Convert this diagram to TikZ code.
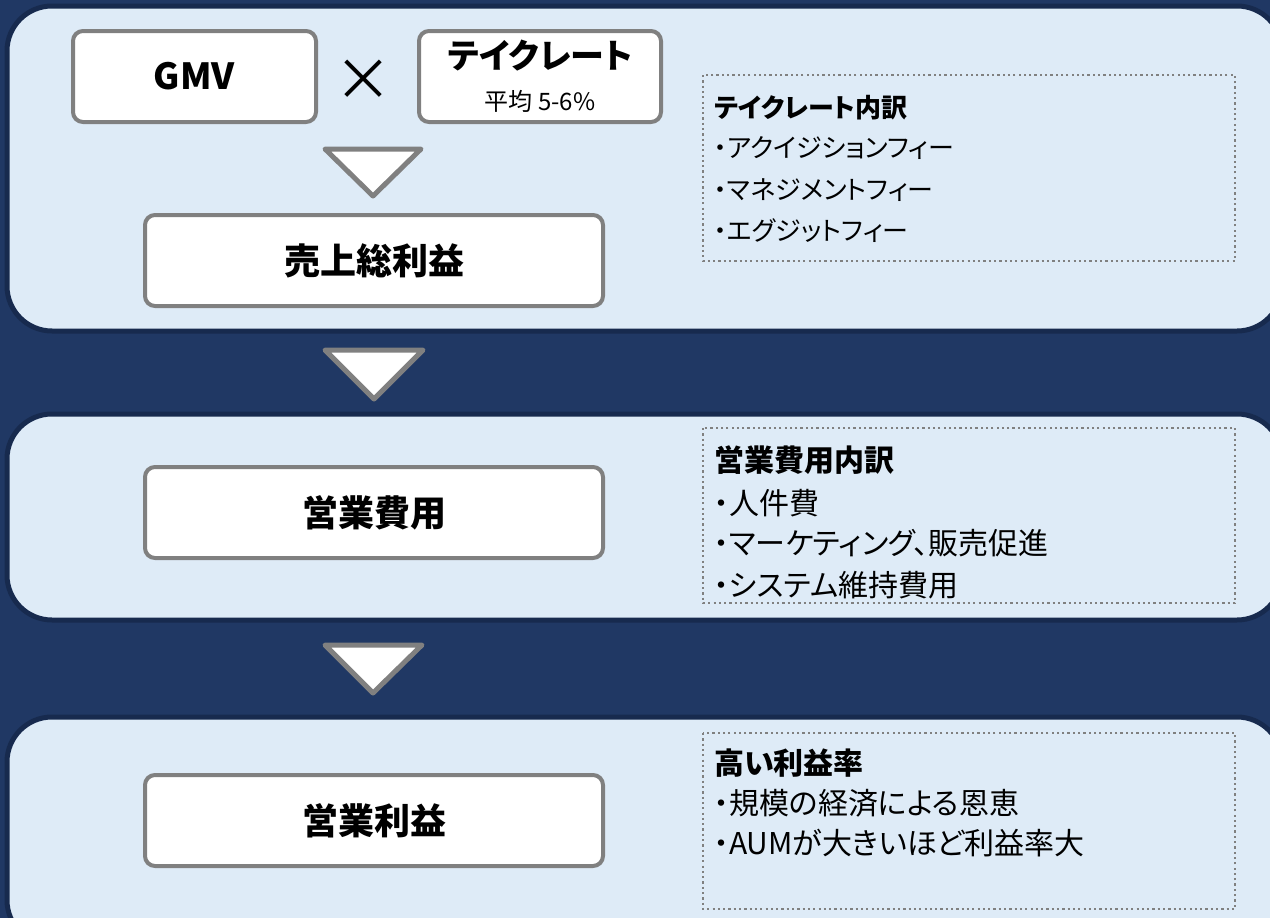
\documentclass[tikz,border=0pt]{standalone}
\usepackage{fontspec}
\setmainfont{Noto Sans CJK JP}[RawFeature=+palt]
\definecolor{bgnavy}{RGB}{32,56,100}
\definecolor{panelline}{RGB}{23,42,78}
\definecolor{panelfill}{RGB}{222,235,247}
\definecolor{boxgray}{RGB}{128,128,128}
\tikzset{
  panel/.style={fill=panelfill, draw=panelline, line width=5pt, rounded corners=45pt},
  whitebox/.style={draw=boxgray, fill=white, line width=4pt, rounded corners=10pt, inner sep=0pt, font=\fontsize{36}{40}\selectfont\bfseries},
  arrowtri/.style={draw=boxgray, fill=white, line width=5pt, line join=round},
  dotbox/.style={draw=boxgray, line width=2.4pt, dash pattern=on 2.2pt off 3.1pt},
  txt/.style={inner sep=0pt, anchor=west, text=black},
  smalltxt/.style={txt, font=\fontsize{26}{30}\selectfont},
  bigtxt/.style={txt, font=\fontsize{30}{34}\selectfont},
}
\begin{document}
\begin{tikzpicture}[x=1pt,y=-1pt]
\useasboundingbox (0,0) rectangle (1270,918);
\fill[bgnavy] (0,0) rectangle (1270,918);
% panels
\draw[panel] (7,6) rectangle (1282,331);
\draw[panel] (7,414) rectangle (1282,620);
\draw[panel] (7,717) rectangle (1282,945);
% panel 1
\node[whitebox, minimum width=243pt, minimum height=91pt] (gmv) at (194.5,76.5) {GMV};
\node[inner sep=0pt, font=\fontsize{58}{60}\selectfont] (times) at (363,80) {×};
\node[whitebox, minimum width=242pt, minimum height=91pt] (take) at (540,76.5) {};
\node[inner sep=0pt, font=\fontsize{34}{38}\selectfont\bfseries] (taketitle) at (540,56) {テイクレート};
\node[inner sep=0pt, font=\fontsize{24}{28}\selectfont] (takeavg) at (540,101) {平均 5-6\%};
\draw[arrowtri] (325,149) -- (421,149) -- (373,196) -- cycle;
\node[whitebox, minimum width=458pt, minimum height=91pt] (gross) at (374,260.5) {売上総利益};
\draw[dotbox] (703,75) rectangle (1235,261);
\node[smalltxt, font=\fontsize{26}{30}\selectfont\bfseries] (t1) at (714,108) {テイクレート内訳};
\node[smalltxt] (t1a) at (714,148) {・アクイジションフィー};
\node[smalltxt] (t1b) at (714,190) {・マネジメントフィー};
\node[smalltxt] (t1c) at (714,231) {・エグジットフィー};
% arrow 2
\draw[arrowtri] (325,350) -- (423,350) -- (374,399) -- cycle;
% panel 2
\node[whitebox, minimum width=458pt, minimum height=91pt] (opex) at (374,512.5) {営業費用};
\draw[dotbox] (703,428) rectangle (1235,603);
\node[bigtxt, font=\fontsize{30}{34}\selectfont\bfseries] (t2) at (714,460) {営業費用内訳};
\node[bigtxt] (t2a) at (714,503) {・人件費};
\node[bigtxt] (t2b) at (714,543) {・マーケティング、販売促進};
\node[bigtxt] (t2c) at (714,585) {・システム維持費用};
% arrow 3
\draw[arrowtri] (325,645) -- (422,645) -- (373,693) -- cycle;
% panel 3
\node[whitebox, minimum width=458pt, minimum height=91pt] (op) at (374,820.5) {営業利益};
\draw[dotbox] (703,733) rectangle (1235,909);
\node[bigtxt, font=\fontsize{30}{34}\selectfont\bfseries] (t3) at (714,763) {高い利益率};
\node[bigtxt] (t3a) at (714,803) {・規模の経済による恩恵};
\node[bigtxt] (t3b) at (714,843) {・AUMが大きいほど利益率大};
\end{tikzpicture}
\end{document}
